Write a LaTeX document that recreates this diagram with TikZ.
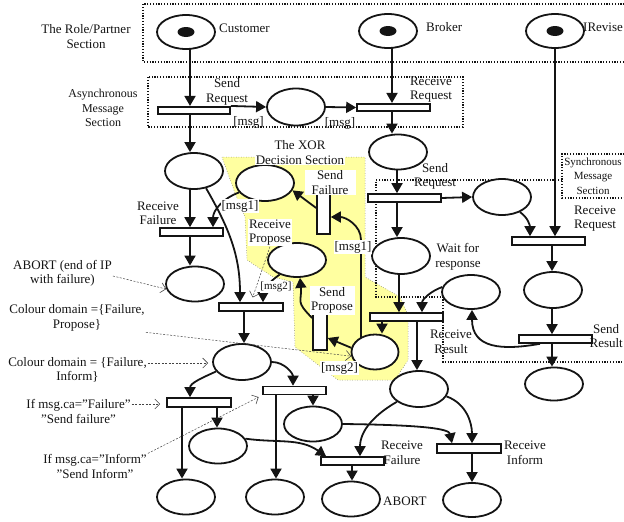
\documentclass[tikz,border=0pt]{standalone}
\usepackage{fontspec}
\setmainfont{Liberation Serif}
\usetikzlibrary{shapes.geometric,arrows.meta}
\pgfdeclarelayer{backdrop}
\pgfdeclarelayer{arcs}
\pgfsetlayers{backdrop,arcs,main}
\definecolor{xorfill}{RGB}{255,255,160}
\definecolor{ink}{RGB}{20,20,20}

\begin{document}
\begin{tikzpicture}[x=1pt,y=1pt,
  font=\fontsize{13}{14.5}\selectfont,
  place/.style={ellipse,draw=ink,line width=1.8pt,fill=white,minimum width=58pt,minimum height=35pt,inner sep=0pt},
  token/.style={ellipse,fill=ink,minimum width=17pt,minimum height=10pt,inner sep=0pt},
  trans/.style={rectangle,draw=ink,line width=1.6pt,fill=white,inner sep=0pt,minimum height=8pt},
  vtrans/.style={rectangle,draw=ink,line width=1.6pt,fill=white,inner sep=0pt,minimum width=13pt},
  arc/.style={draw=ink,line width=1.8pt,-{Triangle[length=10pt,width=11pt]}},
  lbl/.style={align=center,inner sep=1pt,text=ink},
  wlbl/.style={lbl,fill=white},
  section/.style={draw=ink,line width=1.2pt,dash pattern=on 1.2pt off 1.6pt},
  note/.style={draw=ink!80,line width=0.5pt,dash pattern=on 2pt off 1.5pt,
               -{Straight Barb[length=5pt,width=10pt,line width=0.6pt]}},
]
\useasboundingbox (0,0) rectangle (624,-522);

% ---------- section frames and the XOR decision area ----------
\begin{pgfonlayer}{backdrop}
  \fill[xorfill] (222,-157) -- (235,-193) -- (245,-217) -- (247,-260) -- (273,-277)
    -- (293,-282) -- (295,-347) -- (338,-380) -- (395,-380) -- (408,-360)
    -- (408,-315) -- (400,-297) -- (365,-277) -- (365,-157) -- cycle;
  \draw[ink!70,line width=0.5pt,dotted] (222,-157) -- (235,-193) -- (245,-217) -- (247,-260) -- (273,-277)
    -- (293,-282) -- (295,-347) -- (338,-380) -- (395,-380) -- (408,-360)
    -- (408,-315) -- (400,-297) -- (365,-277) -- (365,-157) -- cycle;
  \draw[section] (630,-4) -- (143,-4) -- (143,-62) -- (630,-62);
  \draw[section] (148,-77) rectangle (463,-127);
  \draw[section] (630,-154) -- (562,-154) -- (562,-198) -- (630,-198);
  \draw[section] (562,-180) -- (376,-180) -- (376,-297) -- (443,-297) -- (443,-362) -- (630,-362);
\end{pgfonlayer}

% ---------- places ----------
\node[place,minimum height=34pt] (cust) at (186,-32) {};
\node[token] (custtok) at (cust) {};
\node[place,minimum height=34pt] (brok) at (388,-31) {};
\node[token] (broktok) at (brok) {};
\node[place,minimum height=34pt] (irev) at (555,-31) {};
\node[token] (irevtok) at (irev) {};
\node[place,minimum height=37pt] (amid) at (296,-107) {};
\node[place,minimum height=36pt] (c1) at (194,-171) {};
\node[place,minimum height=36pt] (x1) at (265,-183) {};
\node[place] (b2) at (398,-152) {};
\node[place,minimum height=36pt] (s1) at (502,-197) {};
\node[place,minimum height=36pt] (w) at (401,-256) {};
\node[place,minimum height=34pt] (x2) at (297,-260) {};
\node[place] (c2) at (195,-284) {};
\node[place,minimum height=34pt] (r) at (471,-292) {};
\node[place,minimum height=36pt] (q) at (553,-290) {};
\node[place,minimum width=47pt] (x3) at (375,-352) {};
\node[place,minimum height=36pt] (c3) at (242,-362) {};
\node[place,minimum height=33pt] (sr) at (554,-384) {};
\node[place,minimum height=36pt] (m) at (419,-389) {};
\node[place] (p6) at (313,-424) {};
\node[place] (p5) at (218,-446) {};
\node[place] (bl1) at (186,-497) {};
\node[place] (bl2) at (275,-497) {};
\node[place] (ab) at (351,-499) {};
\node[place,minimum height=34pt] (inf) at (472,-500) {};

% ---------- transitions ----------
\node[trans,minimum width=72pt,minimum height=7.5pt] (tSR) at (194,-110.5) {};
\node[trans,minimum width=73pt,minimum height=7.5pt] (tRR) at (393.5,-107.5) {};
\node[trans,minimum width=63pt] (tRF) at (191.5,-232) {};
\node[trans,minimum width=73pt] (tSR2) at (404.5,-198) {};
\node[trans,minimum width=73pt] (tRR2) at (548.5,-241) {};
\node[vtrans,minimum height=44pt] (tSF) at (323.5,-212) {};
\node[vtrans,minimum width=14pt,minimum height=40pt] (tSP) at (320,-330) {};
\node[trans,minimum width=64pt] (tRP) at (251,-307) {};
\node[trans,minimum width=73pt] (tRRes) at (406.5,-317) {};
\node[trans,minimum width=73pt] (tSRes) at (555.5,-339) {};
\node[trans,minimum width=64pt,minimum height=9pt] (tF) at (199,-402.5) {};
\node[trans,minimum width=63pt] (tI) at (294.5,-390.5) {};
\node[trans,minimum width=63pt] (tRF2) at (352.5,-461) {};
\node[trans,minimum width=64pt,minimum height=9pt] (tRI) at (469,-448.5) {};

% ---------- arcs ----------
\begin{pgfonlayer}{arcs}
  \draw[arc] (cust.center -| 190,0) -- (tSR.north -| 190,0);
  \draw[arc] (tSR.north east) -- (amid.west);
  \draw[arc] (amid.east) -- (tRR.west);
  \draw[arc] (brok.center -| 392,0) -- (tRR.north -| 392,0);
  \draw[arc] (tSR.center -| 190,0) -- (c1.north -| 190,0);
  \draw[arc] (tRR.center -| 392,0) -- (b2.north -| 392,0);
  \draw[arc] (c1.center -| 190,0) -- (tRF.north -| 190,0);
  \draw[arc] (x1.200) to[out=200,in=90] (tRF.north -| 213,0);
  \draw[arc] (c1.-55) to[out=-60,in=90] (tRP.north -| 240,0);
  \draw[arc] (x2.220) to[out=215,in=90] (tRP.north -| 263,0);
  \draw[arc] (tRF.center -| 190,0) -- (c2.north -| 190,0);
  \draw[arc] (tRP.center -| 244,0) -- (c3.north -| 244,0);
  \draw[arc] (c3.200) to[out=205,in=90] (tF.north -| 190,0);
  \draw[arc] (c3.east) to[out=0,in=90] (tI.north -| 293,0);
  \draw[arc] (tF.center -| 182,0) -- (bl1.north -| 182,0);
  \draw[arc] (tF.center -| 217,0) -- (p5.north -| 217,0);
  \draw[arc] (tI.center -| 276,0) -- (bl2.north -| 276,0);
  \draw[arc] (tI.center -| 313,0) -- (p6.north -| 313,0);
  \draw[arc] (p5.15) to[out=-8,in=145] (tRF2.north -| 326,0);
  \draw[arc] (m.210) to[out=210,in=90] (tRF2.north -| 360,0);
  \draw[arc] (p6.east) .. controls +(85,-1) and +(-3,14) .. (tRI.north -| 452,0);
  \draw[arc] (m.-15) to[out=-20,in=90] (tRI.north -| 472,0);
  \draw[arc] (tRF2.center -| 352,0) -- (ab.north -| 352,0);
  \draw[arc] (tRI.center -| 472,0) -- (inf.north -| 472,0);
  \draw[arc] (b2.center -| 397,0) -- (tSR2.north -| 397,0);
  \draw[arc] (tSR2.east) -- (s1.west);
  \draw[arc] (s1.-40) to[out=-35,in=90] (tRR2.north -| 530,0);
  \draw[arc] (irev.center -| 555,0) -- (tRR2.north -| 555,0);
  \draw[arc] (tSR2.center -| 397,0) -- (w.north -| 397,0);
  \draw[arc] (tRR2.center -| 552,0) -- (q.north -| 552,0);
  \draw[arc] (w.center -| 399,0) -- (tRRes.north -| 399,0);
  \draw[arc] (r.170) to[out=200,in=90] (tRRes.north -| 422,0);
  \draw[arc] (q.center -| 552,0) -- (tSRes.north -| 552,0);
  \draw[arc] (tSRes.south -| 540,0) to[out=190,in=-90,looseness=1.3] (r.south -| 472,0);
  \draw[arc] (tSRes.center -| 552,0) -- (sr.north -| 552,0);
  \draw[arc] (tRRes.center -| 417,0) -- (m.north -| 417,0);
  \draw[arc] (tRRes.center -| 382,0) -- (x3.north -| 382,0);
  \draw[arc] (x3.170) -- (tSP.east |- 0,-338);
  \draw[arc] (tSP.west |- 0,-318) to[out=135,in=-85,looseness=1.5] (x2.south -| 300,0);
  \draw[arc] (x3.center -| 361,0) -- ++(0,112) to[out=90,in=0] (tSF.east |- 0,-217);
  \draw[arc] (tSF.west |- 0,-208) -- (x1.-15);
\end{pgfonlayer}

% ---------- labels ----------
\node[lbl,anchor=west] (lCust) at (218,-28) {Customer};
\node[lbl,anchor=west] (lBrok) at (425,-27) {Broker};
\node[lbl,anchor=west] (lIrev) at (582,-27) {IRevise};
\node[lbl] (lRole) at (86,-36.5) {The Role/Partner\\Section};
\node[lbl,font=\fontsize{12}{14.5}\selectfont] (lAsync) at (103,-108) {Asynchronous\\Message\\Section};
\node[lbl] (lSR) at (227,-92) {Send\\Request};
\node[lbl] (lMsgA) at (248.5,-122) {[msg]};
\node[lbl] (lMsgB) at (340,-123) {[msg]};
\node[lbl] (lRR) at (431,-89.5) {Receive\\Request};
\node[wlbl] (lXor) at (300,-152.5) {The XOR\\Decision Section};
\node[wlbl,minimum width=51pt] (lSF) at (330,-182.5) {Send\\Failure};
\node[lbl] (lRF) at (158,-213.5) {Receive\\Failure};
\node[wlbl] (lMsg1a) at (240,-206) {[msg1]};
\node[wlbl] (lMsg1b) at (353,-247) {[msg1]};
\node[wlbl] (lRP) at (270,-232.5) {Receive\\Propose};
\node[wlbl,font=\fontsize{11}{13}\selectfont,inner sep=0.5pt] (lMsg2a) at (276,-287) {[msg2]};
\node[wlbl,minimum width=45pt] (lSP) at (332,-300.5) {Send\\Propose};
\node[wlbl] (lMsg2b) at (339.5,-368) {[msg2]};
\node[lbl] (lSR2) at (435,-176.5) {Send\\Request};
\node[lbl,font=\fontsize{11}{14.5}\selectfont,inner sep=0pt] (lSync) at (593,-176) {Synchronous\\Message\\Section};
\node[lbl] (lRR2) at (595,-218.5) {Receive\\Request};
\node[lbl] (lWait) at (458,-257) {Wait for\\response};
\node[lbl] (lRRes) at (451,-342) {Receive\\Result};
\node[lbl,anchor=east,inner sep=0pt] (lSRes) at (623,-336) {Send\\Result};
\node[lbl] (lAbortL) at (62.5,-273.5) {ABORT (end of IP\\with failure)};
\node[lbl] (lCol1) at (77,-318) {Colour domain =\{Failure,\\Propose\}};
\node[lbl] (lCol2) at (77.5,-370) {Colour domain = \{Failure,\\Inform\}};
\node[lbl] (lIfF) at (78.5,-411.5) {If msg.ca=”Failure”\\"Send failure"};
\node[lbl] (lIfI) at (95,-466.5) {If msg.ca=”Inform”\\"Send Inform"};
\node[lbl] (lRF2) at (402,-453) {Receive\\Failure};
\node[lbl] (lRI) at (525,-453) {Receive\\Inform};
\node[lbl,anchor=west] (lAbort) at (382,-501) {ABORT};

% ---------- annotation pointers ----------
\draw[note] (lAbortL.east |- 0,-276) -- (c2.190);
\draw[note] (lCol1.south east) -- (x3.190);
\draw[note,shorten >=4pt] (lCol2.east |- 0,-363) -- (c3.west |- 0,-363);
\draw[note,shorten >=6pt] (lIfF.east |- 0,-404) -- (tF.west |- 0,-404);
\draw[note,shorten >=4pt] (lIfI.north east) -- (tI.south west);
\draw[note,shorten >=5pt] (lRP.south) -- (tRP.north);
\end{tikzpicture}
\end{document}
